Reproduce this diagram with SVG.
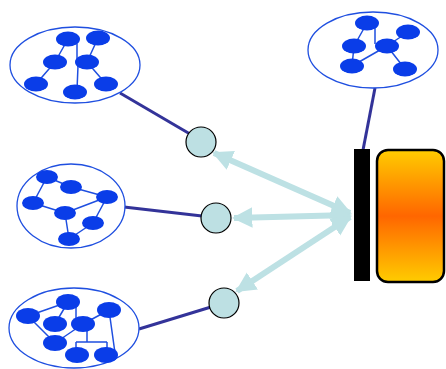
<svg xmlns="http://www.w3.org/2000/svg" width="446" height="369" viewBox="0 0 446 369">
<defs>
<linearGradient id="og" x1="0" y1="0" x2="0" y2="1">
<stop offset="0" stop-color="#ffcc00"/>
<stop offset="0.5" stop-color="#ff6600"/>
<stop offset="1" stop-color="#ffcc00"/>
</linearGradient>
<marker id="ah" viewBox="0 0 10 10" refX="9" refY="5" markerWidth="3.4" markerHeight="3.6" orient="auto-start-reverse" markerUnits="strokeWidth">
<path d="M0,0 L10,5 L0,10 z" fill="#bde1e4"/>
</marker>
<style>
.cl{fill:#fff;stroke:#1f4fe0;stroke-width:1.3}
.n{fill:#0a3de8}
.e{stroke:#1f4fe0;stroke-width:1.5;fill:none}
.cn{stroke:#333399;stroke-width:3;fill:none}
.sc{fill:#bde0e3;stroke:#000;stroke-width:1.2}
.ar{stroke:#bde1e4;stroke-width:6;fill:none;marker-start:url(#ah);marker-end:url(#ah)}
</style>
</defs>
<g id="connectors">
<line class="cn" x1="120" y1="93" x2="190" y2="134"/>
<line class="cn" x1="124" y1="207" x2="202" y2="216"/>
<line class="cn" x1="139" y1="329" x2="211" y2="307"/>
<line class="cn" x1="375" y1="88" x2="363" y2="150"/>
<line class="ar" x1="350" y1="213" x2="214" y2="153"/>
<line class="ar" x1="350" y1="215" x2="234" y2="218"/>
<line class="ar" x1="350" y1="217" x2="237" y2="291"/>
</g>
<g id="cluster1">
<ellipse class="cl" cx="75" cy="65" rx="65" ry="38"/>
<path class="e" d="M68,39 L55,62 M77,44 L77,62 M78,66 L77,90 M98,38 L87,62 M55,62 L36,84 M87,62 L106,84"/>
<ellipse class="n" cx="68" cy="39" rx="12" ry="7.5"/>
<ellipse class="n" cx="98" cy="38" rx="12" ry="7.5"/>
<ellipse class="n" cx="55" cy="62" rx="12" ry="7.5"/>
<ellipse class="n" cx="87" cy="62" rx="12" ry="7.5"/>
<ellipse class="n" cx="36" cy="84" rx="12" ry="7.5"/>
<ellipse class="n" cx="75" cy="92" rx="12" ry="7.5"/>
<ellipse class="n" cx="106" cy="84" rx="12" ry="7.5"/>
</g>
<g id="cluster2">
<ellipse class="cl" cx="373" cy="50" rx="65" ry="38"/>
<path class="e" d="M367,23 L354,46 M375,26 L375,44 M387,46 L408,32 M354,46 L352,66 M352,66 L387,46 M387,46 L405,69"/>
<ellipse class="n" cx="367" cy="23" rx="12" ry="7.5"/>
<ellipse class="n" cx="408" cy="32" rx="12" ry="7.5"/>
<ellipse class="n" cx="354" cy="46" rx="12" ry="7.5"/>
<ellipse class="n" cx="387" cy="46" rx="12" ry="7.5"/>
<ellipse class="n" cx="352" cy="66" rx="12" ry="7.5"/>
<ellipse class="n" cx="405" cy="69" rx="12" ry="7.5"/>
</g>
<g id="cluster3">
<ellipse class="cl" cx="71" cy="206" rx="54" ry="42"/>
<path class="e" d="M47,177 L71,187 M47,177 L33,203 M71,187 L107,197 M33,203 L65,213 M65,213 L107,197 M107,197 L93,223 M65,213 L69,239 M69,239 L93,223"/>
<ellipse class="n" cx="47" cy="177" rx="11" ry="7"/>
<ellipse class="n" cx="71" cy="187" rx="11" ry="7"/>
<ellipse class="n" cx="33" cy="203" rx="11" ry="7"/>
<ellipse class="n" cx="107" cy="197" rx="11" ry="7"/>
<ellipse class="n" cx="65" cy="213" rx="11" ry="7"/>
<ellipse class="n" cx="93" cy="223" rx="11" ry="7"/>
<ellipse class="n" cx="69" cy="239" rx="11" ry="7"/>
</g>
<g id="cluster4">
<ellipse class="cl" cx="74" cy="328" rx="65" ry="40"/>
<path class="e" d="M28,316 L68,302 M68,302 L55,324 M76,302 L76,324 M28,316 L55,343 M83,324 L55,343 M83,324 L109,310 M109,310 L115,353 M87,324 L87,342 M76,342 L107,342 M76,342 L76,355 M107,342 L107,355"/>
<ellipse class="n" cx="28" cy="316" rx="12" ry="8"/>
<ellipse class="n" cx="68" cy="302" rx="12" ry="8"/>
<ellipse class="n" cx="55" cy="324" rx="12" ry="8"/>
<ellipse class="n" cx="83" cy="324" rx="12" ry="8"/>
<ellipse class="n" cx="109" cy="310" rx="12" ry="8"/>
<ellipse class="n" cx="55" cy="343" rx="12" ry="8"/>
<ellipse class="n" cx="77" cy="355" rx="12" ry="8"/>
<ellipse class="n" cx="106" cy="355" rx="12" ry="8"/>
</g>
<g id="hub1"><circle class="sc" cx="201" cy="142" r="15"/></g>
<g id="hub2"><circle class="sc" cx="216" cy="218" r="15"/></g>
<g id="hub3"><circle class="sc" cx="224" cy="303" r="15"/></g>
<g id="bar"><rect x="354" y="149" width="16" height="132" fill="#000"/></g>
<g id="box"><rect x="377" y="150" width="67" height="132" rx="11" fill="url(#og)" stroke="#000" stroke-width="2.5"/></g>
</svg>
